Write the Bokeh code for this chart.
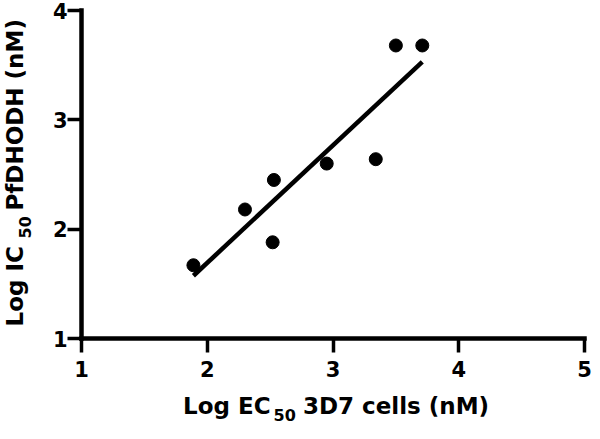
import numpy as np
from bokeh.plotting import figure
from bokeh.models import Label, Range1d
from bokeh.embed import file_html
from bokeh.resources import INLINE

# Data
log_ec50 = [1.89, 2.30, 2.53, 2.52, 2.95, 3.34, 3.50, 3.71]
log_ic50 = [1.67, 2.18, 2.45, 1.88, 2.60, 2.64, 3.68, 3.68]
x_ticks = [1, 2, 3, 4, 5]
y_ticks = [1, 2, 3, 4]
x_lo, x_hi = 1, 5
y_lo, y_hi = 1, 4

# Linear regression line over the data range
slope, intercept = np.polyfit(log_ec50, log_ic50, 1)
fit_x = [min(log_ec50), max(log_ec50)]
fit_y = [slope * v + intercept for v in fit_x]

# Canvas geometry (pixels); the frame covers the whole canvas and the
# axes are drawn at fixed locations inside it.
W, H = 592, 423
AX_L, AX_R = 81, 584      # pixel columns of x = 1 and x = 5
AX_T, AX_B = 10, 338      # pixel rows of y = 4 and y = 1
sx = (AX_R - AX_L) / (x_hi - x_lo)
sy = (AX_B - AX_T) / (y_hi - y_lo)

def dx(px):
    return x_lo + (px - AX_L) / sx

def dy(py):
    return y_lo + (AX_B - py) / sy

FONT = "DejaVu Sans"

p = figure(width=W, height=H,
           x_range=Range1d(dx(0), dx(W)), y_range=Range1d(dy(H), dy(0)),
           output_backend="svg", toolbar_location=None,
           min_border_left=0, min_border_right=0,
           min_border_top=0, min_border_bottom=0)
p.outline_line_color = None
p.xgrid.visible = False
p.ygrid.visible = False
p.background_fill_color = "white"
p.border_fill_color = "white"

for ax in (p.xaxis[0], p.yaxis[0]):
    ax.axis_line_width = 4.5
    ax.axis_line_color = "black"
    ax.axis_line_cap = "square"
    ax.major_tick_line_width = 3.5
    ax.major_tick_line_color = "black"
    ax.major_tick_in = 0
    ax.major_tick_out = 14
    ax.minor_tick_line_color = None
    ax.major_label_text_font = FONT
    ax.major_label_text_font_style = "bold"
    ax.major_label_text_font_size = "21px"
    ax.major_label_text_color = "black"

p.xaxis.ticker = x_ticks
p.yaxis.ticker = y_ticks
p.xaxis.fixed_location = y_lo
p.yaxis.fixed_location = x_lo
p.xaxis.bounds = (x_lo, x_hi)
p.yaxis.bounds = (y_lo, y_hi)
p.xaxis.major_label_standoff = 8
p.yaxis.major_label_standoff = 0

p.line(fit_x, fit_y, line_width=4.5, line_color="black")
p.scatter(log_ec50, log_ic50, size=13, color="black")

def lab(text, px, py, size, angle=0):
    p.add_layout(Label(x=dx(px), y=dy(py), text=text,
                       text_font=FONT, text_font_style="bold",
                       text_font_size=size, text_color="black",
                       text_align="left", text_baseline="alphabetic",
                       angle=angle))

# x-axis title with subscript
lab("Log EC", 182.5, 405, "23px")
lab("50", 273, 414, "16px")
lab("3D7 cells (nM)", 302.5, 405, "23px")

# y-axis title (rotated) with subscript
ang = np.pi / 2
lab("Log IC", 14, 326, "23px", ang)
lab("50", 24, 238, "16px", ang)
lab("PfDHODH (nM)", 14, 210, "23px", ang)

open("out.html", "w").write(file_html(p, INLINE))
